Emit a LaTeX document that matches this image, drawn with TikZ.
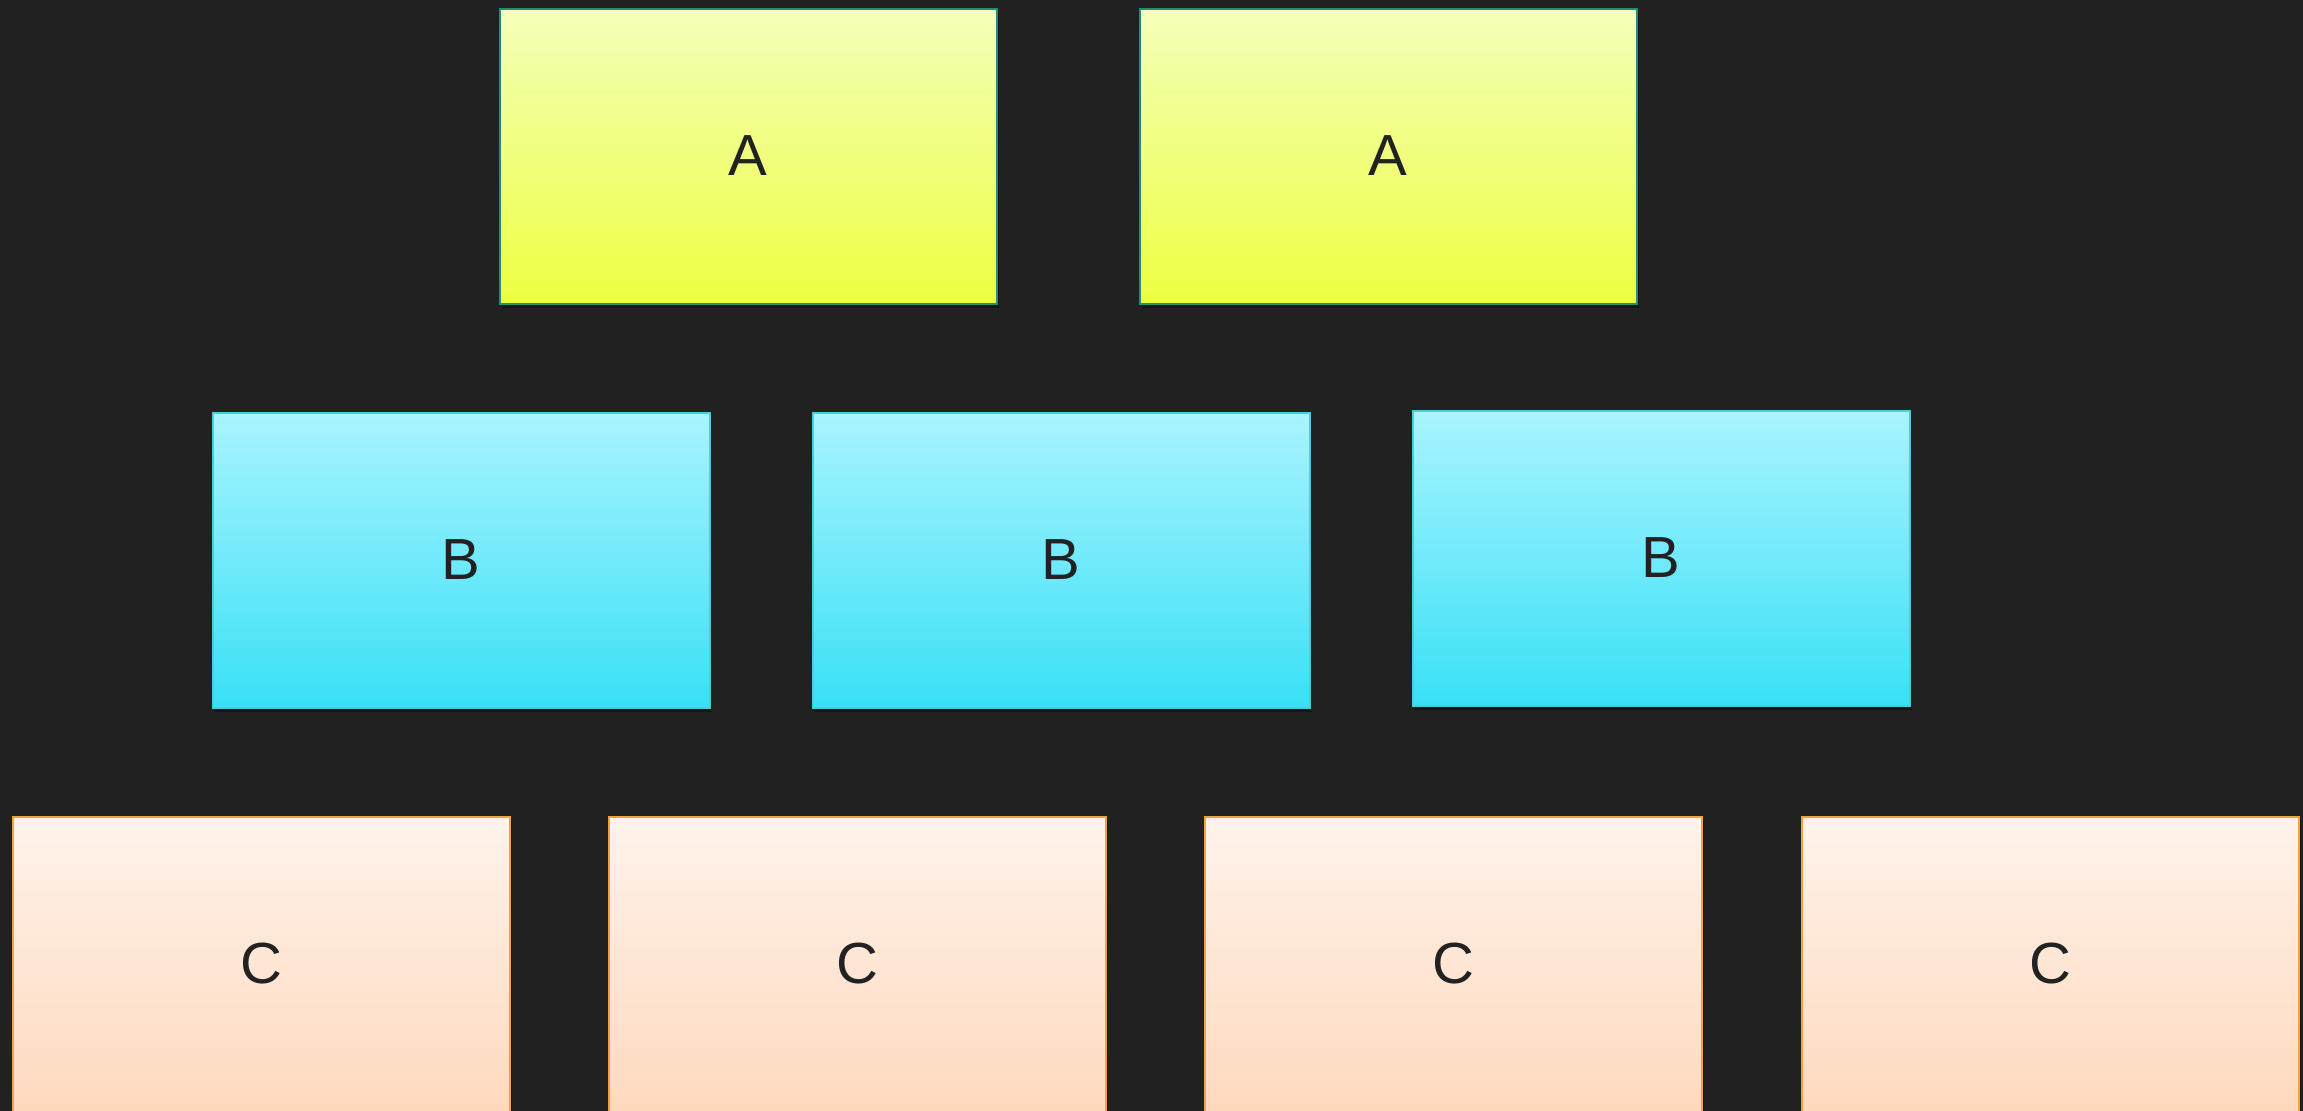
\documentclass[tikz,border=0pt]{standalone}
\usepackage{fontspec}
\setmainfont{Liberation Sans}
\usetikzlibrary{shadows}
\definecolor{bg}{HTML}{212121}
\definecolor{atop}{HTML}{F4FFBA}
\definecolor{abot}{HTML}{EDFF40}
\definecolor{adraw}{HTML}{1F8F7C}
\definecolor{btop}{HTML}{AAF4FF}
\definecolor{bbot}{HTML}{38E0F6}
\definecolor{bdraw}{HTML}{48CFDF}
\definecolor{ctop}{HTML}{FFF3EB}
\definecolor{cbot}{HTML}{FFD9BE}
\definecolor{cdraw}{HTML}{F4A23A}
\definecolor{txt}{HTML}{222222}
\tikzset{
  boxbase/.style={minimum width=497pt, minimum height=295pt, inner sep=0pt, line width=2pt,
    text=txt, font=\fontsize{58}{62}\selectfont,
    drop shadow={shadow xshift=2pt, shadow yshift=-4pt, fill=black, opacity=0.35}},
  abox/.style={boxbase, draw=adraw, top color=atop, bottom color=abot},
  bbox/.style={boxbase, draw=bdraw, top color=btop, bottom color=bbot},
  cbox/.style={boxbase, draw=cdraw, top color=ctop, bottom color=cbot},
}
\begin{document}
\begin{tikzpicture}[x=1pt,y=-1pt]
\fill[bg] (0,0) rectangle (2303,1111);
\useasboundingbox (0,0) rectangle (2303,1111);
\clip (0,0) rectangle (2303,1111);
\node[abox] (a1) at (748,156) {A};
\node[abox] (a2) at (1388,156) {A};
\node[bbox] (b1) at (461,560) {B};
\node[bbox] (b2) at (1061,560) {B};
\node[bbox] (b3) at (1661,558) {B};
\node[cbox] (c1) at (261,964) {C};
\node[cbox] (c2) at (857,964) {C};
\node[cbox] (c3) at (1453,964) {C};
\node[cbox] (c4) at (2050,964) {C};
\end{tikzpicture}
\end{document}
